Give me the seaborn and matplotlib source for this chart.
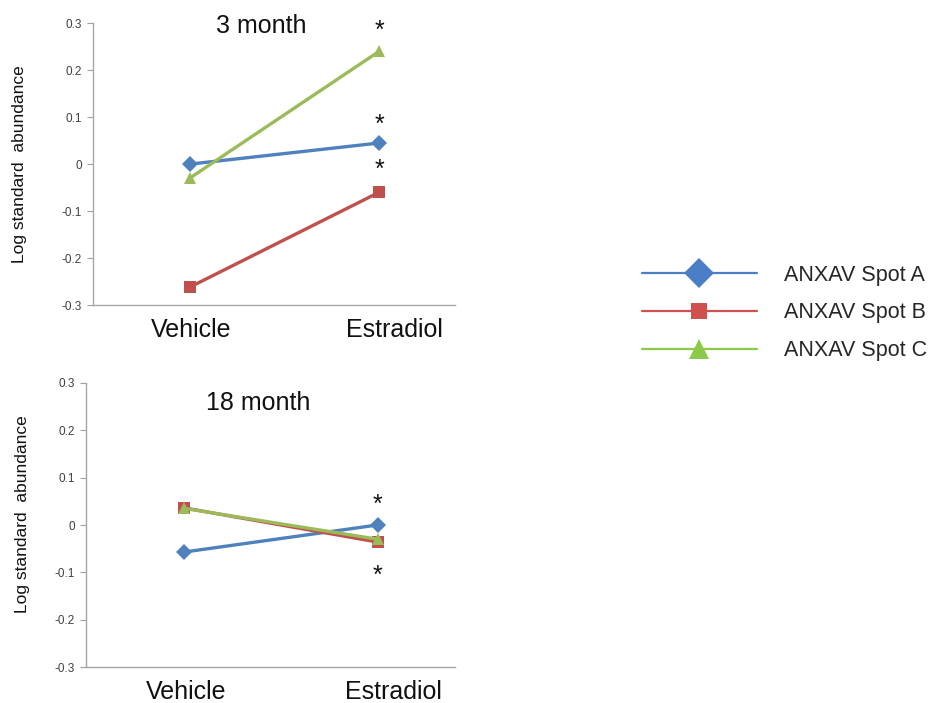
import matplotlib
matplotlib.use("Agg")
import matplotlib.pyplot as plt
import seaborn as sns
import pandas as pd

sns.set_theme(style="white")
plt.rcParams["font.family"] = ["Liberation Sans", "DejaVu Sans"]

groups = ["Vehicle", "Estradiol"]
spots = ["ANXAV Spot A", "ANXAV Spot B", "ANXAV Spot C"]

# Log standard abundance, 3 month cohort
m3_spot_a = [0.0, 0.045]
m3_spot_b = [-0.262, -0.060]
m3_spot_c = [-0.030, 0.240]

# Log standard abundance, 18 month cohort
m18_spot_a = [-0.057, 0.0]
m18_spot_b = [0.036, -0.036]
m18_spot_c = [0.035, -0.030]

# significance markers: (group, y position)
m3_stars = [("Estradiol", 0.283), ("Estradiol", 0.083), ("Estradiol", -0.012)]
m18_stars = [("Estradiol", 0.043), ("Estradiol", -0.107)]

y_ticks = [-0.3, -0.2, -0.1, 0, 0.1, 0.2, 0.3]
y_tick_labels = ["-0.3", "-0.2", "-0.1", "0", "0.1", "0.2", "0.3"]

palette = {spots[0]: "#4F81BD", spots[1]: "#C0504D", spots[2]: "#9BBB59"}
markers = {spots[0]: "D", spots[1]: "s", spots[2]: "^"}
legend_colors = {spots[0]: "#4A7EC6", spots[1]: "#D0504D", spots[2]: "#8CCB4A"}


def long_frame(a, b, c):
    rows = []
    for spot, vals in zip(spots, [a, b, c]):
        for g, v in zip(groups, vals):
            rows.append({"group": g, "pos": groups.index(g), "spot": spot, "value": v})
    return pd.DataFrame(rows)


fig = plt.figure(figsize=(9.3, 7.03), dpi=100)
ax_top = fig.add_axes([0.1, 0.566, 0.389, 0.401])
ax_bot = fig.add_axes([0.0925, 0.0512, 0.3965, 0.404])

panels = [
    (ax_top, long_frame(m3_spot_a, m3_spot_b, m3_spot_c), m3_stars, (-0.182, 0.5)),
    (ax_bot, long_frame(m18_spot_a, m18_spot_b, m18_spot_c), m18_stars, (-0.152, 0.54)),
]

for ax, df, stars, label_xy in panels:
    sns.lineplot(
        data=df, x="pos", y="value", hue="spot", style="spot",
        palette=palette, markers=markers, dashes=False,
        linewidth=2.4, markersize=8.5, markeredgewidth=0,
        legend=False, ax=ax, sort=False,
    )
    ax.set_ylim(-0.3, 0.3)
    ax.set_xlim(-0.51, 1.4)
    ax.set_yticks(y_ticks)
    ax.set_yticklabels(y_tick_labels, fontsize=8.5, color="#404040")
    ax.set_xticks([0.01, 1.08])
    ax.set_xticklabels(groups, fontsize=18, color="#111111")
    ax.tick_params(axis="x", length=0, pad=9)
    ax.tick_params(axis="y", length=4, width=0.8, color="#A0A0A0", direction="out", left=True, pad=4)
    for side in ["top", "right"]:
        ax.spines[side].set_visible(False)
    for side in ["left", "bottom"]:
        ax.spines[side].set_color("#A6A6A6")
        ax.spines[side].set_linewidth(1.0)
    ax.set_xlabel("")
    ax.set_ylabel("Log standard  abundance", fontsize=12.5, color="#111111")
    ax.yaxis.set_label_coords(*label_xy)
    for g, y in stars:
        ax.text(groups.index(g), y, "*", ha="center", va="center", fontsize=18, color="#111111")

ax_top.text(0.38, 0.295, "3 month", ha="center", va="center", fontsize=18, color="#111111")
ax_bot.text(0.38, 0.258, "18 month", ha="center", va="center", fontsize=18, color="#111111")

handles = [
    plt.Line2D([], [], color=legend_colors[s], marker=markers[s], markersize=15 if s != spots[1] else 12,
               linewidth=1.6, markeredgewidth=0)
    for s in spots
]
fig.legend(handles, spots, loc="center left", bbox_to_anchor=(0.669, 0.555), frameon=False,
           fontsize=15.5, handlelength=5.35, handletextpad=1.25, labelspacing=0.78)

fig.savefig("out.png", dpi=100, facecolor="white")
